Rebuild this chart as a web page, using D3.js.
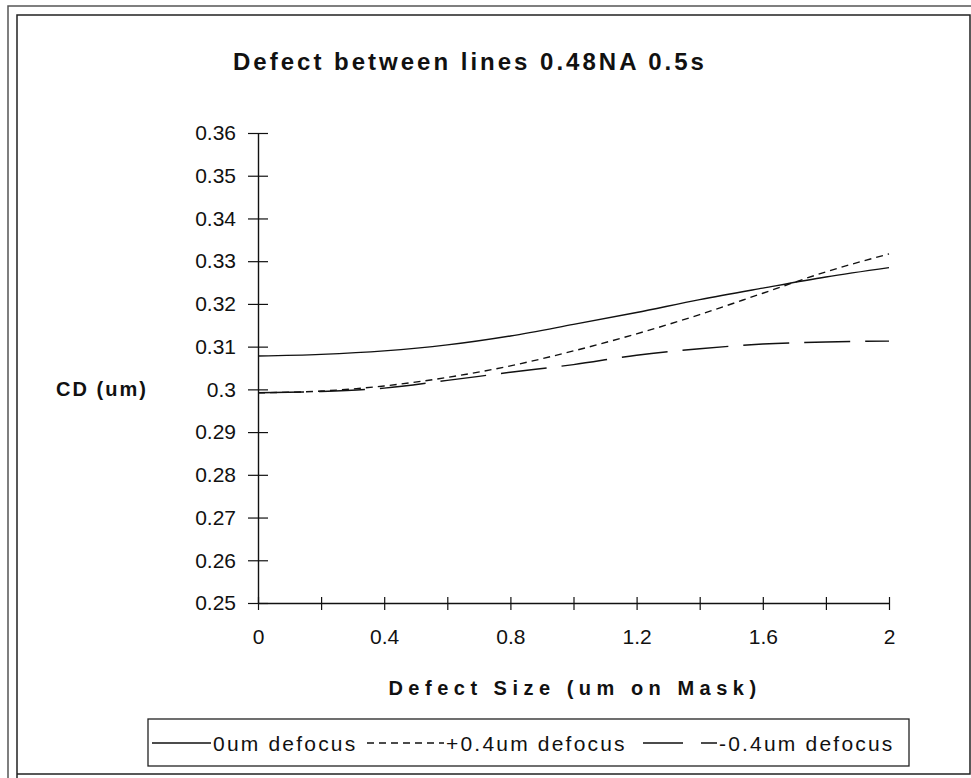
<!DOCTYPE html>
<html>
<head>
<meta charset="utf-8">
<script src="https://cdn.jsdelivr.net/npm/d3@7"></script>
<style>
  body { margin: 0; background: #fff; }
  svg { display: block; }
  text { font-family: "Liberation Sans", Arial, sans-serif; fill: #111; }
</style>
</head>
<body>
<div id="chart"></div>
<script>
(function () {

  // data
  var defectSize = [0, 0.2, 0.4, 0.6, 0.8, 1.0, 1.2, 1.4, 1.6, 1.8, 2.0];
  var cdFocus0   = [0.3078, 0.3082, 0.3090, 0.3104, 0.3125, 0.3152, 0.3180, 0.3210, 0.3237, 0.3263, 0.3285];
  var cdFocusPos = [0.2992, 0.2996, 0.3008, 0.3028, 0.3055, 0.3090, 0.3130, 0.3175, 0.3225, 0.3275, 0.3317];
  var cdFocusNeg = [0.2992, 0.2995, 0.3003, 0.3021, 0.3040, 0.3058, 0.3080, 0.3095, 0.3106, 0.3111, 0.3113];
  var seriesNames = ["0um defocus", "+0.4um defocus", "-0.4um defocus"];
  var yTicks = [0.25, 0.26, 0.27, 0.28, 0.29, 0.3, 0.31, 0.32, 0.33, 0.34, 0.35, 0.36];
  var yTickLabels = ["0.25", "0.26", "0.27", "0.28", "0.29", "0.3", "0.31", "0.32", "0.33", "0.34", "0.35", "0.36"];
  var xTicks = [0, 0.2, 0.4, 0.6, 0.8, 1.0, 1.2, 1.4, 1.6, 1.8, 2.0];
  var xTickLabels = ["0", "", "0.4", "", "0.8", "", "1.2", "", "1.6", "", "2"];

  var w = 971;
  var h = 778;

  var margin = { top: 133, left: 258, right: 82, bottom: 175 };
  var width = w - margin.left - margin.right;
  var height = h - margin.top - margin.bottom;

  var xScale = d3.scaleLinear().domain([0, 2]).range([0, width]);
  var yScale = d3.scaleLinear().domain([0.25, 0.36]).range([height, 0]);

  var svg = d3.select("#chart")
    .append("svg")
    .attr("width", w)
    .attr("height", h);

  // frame (double border like the scanned page)
  svg.append("path")
    .attr("d", "M8 778 L8 6 L971 6")
    .style("fill", "none").style("stroke", "#555").style("stroke-width", 1.5);
  svg.append("path")
    .attr("d", "M17 778 L17 15 L970 15 L970 774 L17 774")
    .style("fill", "none").style("stroke", "#222").style("stroke-width", 1.5);

  // title
  svg.append("text")
    .attr("x", 470)
    .attr("y", 70)
    .attr("text-anchor", "middle")
    .style("font-size", "24px")
    .style("font-weight", "bold")
    .style("letter-spacing", "3px")
    .text("Defect between lines 0.48NA 0.5s");

  var g = svg.append("g")
    .attr("transform", "translate(" + margin.left + "," + margin.top + ")");

  // y axis
  var yAxis = d3.axisLeft(yScale)
    .tickValues(yTicks)
    .tickFormat(function (d, i) { return yTickLabels[i]; })
    .tickSize(0)
    .tickPadding(22);

  var yg = g.append("g").attr("class", "yaxis").call(yAxis);
  yg.select(".domain").style("stroke", "#111").style("stroke-width", 1.4);
  yg.selectAll(".tick line").attr("x1", -10).attr("x2", 10).style("stroke", "#111").style("stroke-width", 1.2);
  yg.selectAll(".tick text").style("font-size", "21px").style("font-family", null);

  // x axis
  var xAxis = d3.axisBottom(xScale)
    .tickValues(xTicks)
    .tickFormat(function (d, i) { return xTickLabels[i]; })
    .tickSize(0)
    .tickPadding(26);

  var xg = g.append("g").attr("class", "xaxis")
    .attr("transform", "translate(0," + height + ")")
    .call(xAxis);
  xg.select(".domain").style("stroke", "#111").style("stroke-width", 1.4);
  xg.selectAll(".tick line").attr("y1", -6).attr("y2", 7).style("stroke", "#111").style("stroke-width", 1.2);
  xg.selectAll(".tick text").style("font-size", "21px").style("font-family", null);

  // axis titles
  svg.append("text")
    .attr("x", 575)
    .attr("y", 695)
    .attr("text-anchor", "middle")
    .style("font-size", "20px")
    .style("font-weight", "bold")
    .style("letter-spacing", "5.5px")
    .text("Defect Size (um on Mask)");

  svg.append("text")
    .attr("x", 102)
    .attr("y", margin.top + yScale(0.3) + 7)
    .attr("text-anchor", "middle")
    .style("font-size", "20px")
    .style("font-weight", "bold")
    .style("letter-spacing", "2px")
    .text("CD (um)");

  // lines
  var series = [
    { name: seriesNames[0], values: cdFocus0, dash: null },
    { name: seriesNames[1], values: cdFocusPos, dash: "7,5" },
    { name: seriesNames[2], values: cdFocusNeg, dash: "46,15" }
  ];

  var line = d3.line()
    .x(function (d, i) { return xScale(defectSize[i]); })
    .y(function (d) { return yScale(d); })
    .curve(d3.curveMonotoneX);

  g.selectAll(".series")
    .data(series)
    .enter()
    .append("path")
    .attr("class", "series")
    .attr("d", function (d) { return line(d.values); })
    .style("fill", "none")
    .style("stroke", "#111")
    .style("stroke-width", 1.4)
    .style("stroke-dasharray", function (d) { return d.dash; });

  // legend
  var legend = svg.append("g").attr("class", "legend");
  legend.append("rect")
    .attr("x", 148).attr("y", 719)
    .attr("width", 761).attr("height", 47)
    .style("fill", "none").style("stroke", "#222").style("stroke-width", 1.3);

  var legendItems = [
    { x1: 152, x2: 211, dash: null },
    { x1: 367, x2: 444, dash: "7,5" },
    { x1: 643, x2: 717, dash: "40,18" }
  ];

  legendItems.forEach(function (d, i) {
    legend.append("line")
      .attr("x1", d.x1).attr("x2", d.x2)
      .attr("y1", 743).attr("y2", 743)
      .style("stroke", "#111").style("stroke-width", 1.3)
      .style("stroke-dasharray", d.dash);
    legend.append("text")
      .attr("x", d.x2 + 2)
      .attr("y", 751)
      .style("font-size", "21px")
      .style("letter-spacing", "2.2px")
      .text(seriesNames[i]);
  });

})();
</script>
</body>
</html>
